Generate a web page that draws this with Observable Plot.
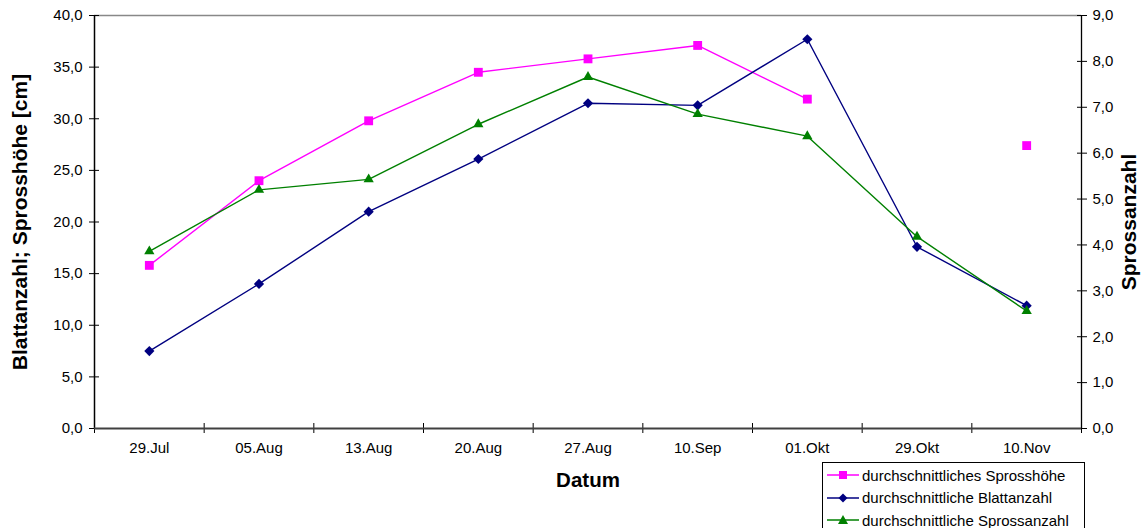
<!DOCTYPE html>
<html>
<head>
<meta charset="utf-8">
<script src="https://cdn.jsdelivr.net/npm/d3@7"></script>
<script src="https://cdn.jsdelivr.net/npm/@observablehq/plot@0.6"></script>
<style>
  html, body { margin: 0; padding: 0; background: #fff; }
  #wrap { position: relative; width: 1142px; height: 528px; overflow: hidden; font-family: "Liberation Sans", Arial, sans-serif; }
  #legend { position: absolute; left: 822px; top: 462px; width: 263px; height: 80px; border: 1px solid #000; background: #fff; box-sizing: border-box; }
  .row { position: absolute; left: 4px; height: 20px; display: flex; align-items: center; font-size: 15px; color: #000; white-space: nowrap; }
  .row svg { margin-right: 3px; }
</style>
</head>
<body>
<div id="wrap">
  <div id="chart"></div>
  <div id="legend"></div>
</div>
<script>
// Sampling dates (category axis)
const dates = ["29.Jul", "05.Aug", "13.Aug", "20.Aug", "27.Aug", "10.Sep", "01.Okt", "29.Okt", "10.Nov"];

// Mean shoot height [cm] (left axis); no measurement on 29.Okt
const sprosshoehe = [15.8, 24.0, 29.8, 34.5, 35.8, 37.1, 31.9, null, 27.4];
// Mean leaf count (left axis)
const blattanzahl = [7.5, 14.0, 21.0, 26.1, 31.5, 31.3, 37.7, 17.6, 11.9];
// Mean shoot count (right axis)
const sprossanzahl = [3.86, 5.2, 5.43, 6.63, 7.66, 6.85, 6.37, 4.18, 2.56];

// Axis ranges and ticks
const leftTicks = [0, 5, 10, 15, 20, 25, 30, 35, 40];
const rightTicks = [0, 1, 2, 3, 4, 5, 6, 7, 8, 9];
const leftMax = 40, rightMax = 9;
const toLeft = v => v * leftMax / rightMax;

const series = [
  {name: "durchschnittliches Sprosshöhe", values: sprosshoehe, color: "#FF00FF", symbol: "square", r: 5, scaled: false},
  {name: "durchschnittliche Blattanzahl", values: blattanzahl, color: "#000080", symbol: "diamond2", r: 4.6, scaled: false},
  {name: "durchschnittliche Sprossanzahl", values: sprossanzahl, color: "#008000", symbol: "triangle2", r: 4.9, scaled: true}
];

const comma = v => v.toFixed(1).replace(".", ",");
const font = "Liberation Sans, Arial, sans-serif";

const seriesMarks = series.flatMap(s => {
  const rows = dates.map((d, i) => ({i, v: s.values[i] == null ? null : (s.scaled ? toLeft(s.values[i]) : s.values[i])}));
  return [
    Plot.line(rows, {x: "i", y: "v", stroke: s.color, strokeWidth: 1.4}),
    Plot.dot(rows.filter(r => r.v != null), {x: "i", y: "v", symbol: () => s.symbol, r: s.r, fill: s.color, stroke: "none"})
  ];
});

const boundaries = d3.range(-0.5, dates.length, 1);

const chart = Plot.plot({
  width: 1142,
  height: 528,
  marginLeft: 94,
  marginRight: 61,
  marginTop: 15,
  marginBottom: 100,
  style: {fontFamily: font, fontSize: "15px", color: "#000", background: "#fff"},
  x: {type: "linear", domain: [-0.5, dates.length - 0.5]},
  y: {domain: [0, leftMax]},
  marks: [
    // frame: grey top edge, black side axes, dark bottom axis
    Plot.ruleY([leftMax], {stroke: "#888", strokeWidth: 1.5}),
    Plot.ruleX([-0.5], {stroke: "#000", strokeWidth: 1.5}),
    Plot.ruleX([dates.length - 0.5], {stroke: "#000", strokeWidth: 1.3}),
    // left axis (ticks crossing the axis line)
    Plot.axisY({anchor: "left", ticks: leftTicks, tickFormat: comma, tickSize: 5, tickPadding: 7, label: null, fontSize: 15}),
    Plot.axisY({anchor: "left", ticks: leftTicks, tickFormat: () => "", tickSize: -5, label: null}),
    // right axis (shoot count) mapped onto the left scale
    Plot.axisY({anchor: "right", ticks: rightTicks.map(toLeft), tickFormat: d => comma(Math.round(d * rightMax / leftMax * 10) / 10), tickSize: 5, tickPadding: 6, label: null, fontSize: 15}),
    Plot.axisY({anchor: "right", ticks: rightTicks.map(toLeft), tickFormat: () => "", tickSize: -5, label: null}),
    // category labels centred in each band
    Plot.axisX({anchor: "bottom", ticks: d3.range(dates.length), tickFormat: i => dates[i], tickSize: 0, tickPadding: 14, label: null, fontSize: 15}),
    // tick marks at band boundaries
    Plot.axisX({anchor: "bottom", ticks: boundaries, tickFormat: () => "", tickSize: 5, label: null}),
    Plot.axisX({anchor: "bottom", ticks: boundaries, tickFormat: () => "", tickSize: -5, label: null}),
    Plot.ruleY([0], {stroke: "#404040", strokeWidth: 2.2}),
    ...seriesMarks,
    // axis titles
    Plot.text(["Blattanzahl; Sprosshöhe [cm]"], {frameAnchor: "left", dx: -74, rotate: -90, textAnchor: "middle", fontSize: 21, fontWeight: "bold", fill: "#000"}),
    Plot.text(["Sprossanzahl"], {frameAnchor: "right", dx: 48, rotate: -90, textAnchor: "middle", fontSize: 21, fontWeight: "bold", fill: "#000"}),
    Plot.text(["Datum"], {frameAnchor: "bottom", dy: 58, textAnchor: "middle", fontSize: 20.5, fontWeight: "bold", fill: "#000"})
  ]
});
document.getElementById("chart").appendChild(chart);

// legend
const legend = document.getElementById("legend");
const symbolPath = {
  square: "M-4,-4h8v8h-8z",
  diamond2: "M0,-4.5L4.5,0L0,4.5L-4.5,0z",
  triangle2: "M0,-5L5,4L-5,4z"
};
series.forEach((s, k) => {
  const row = document.createElement("div");
  row.className = "row";
  row.style.top = (2 + k * 22.5) + "px";
  row.innerHTML = `<svg width="32" height="12" viewBox="-16 -6 32 12"><line x1="-16" x2="16" y1="0" y2="0" stroke="${s.color}" stroke-width="1.5"/><path d="${symbolPath[s.symbol]}" fill="${s.color}"/></svg><span>${s.name}</span>`;
  legend.appendChild(row);
});
</script>
</body>
</html>
